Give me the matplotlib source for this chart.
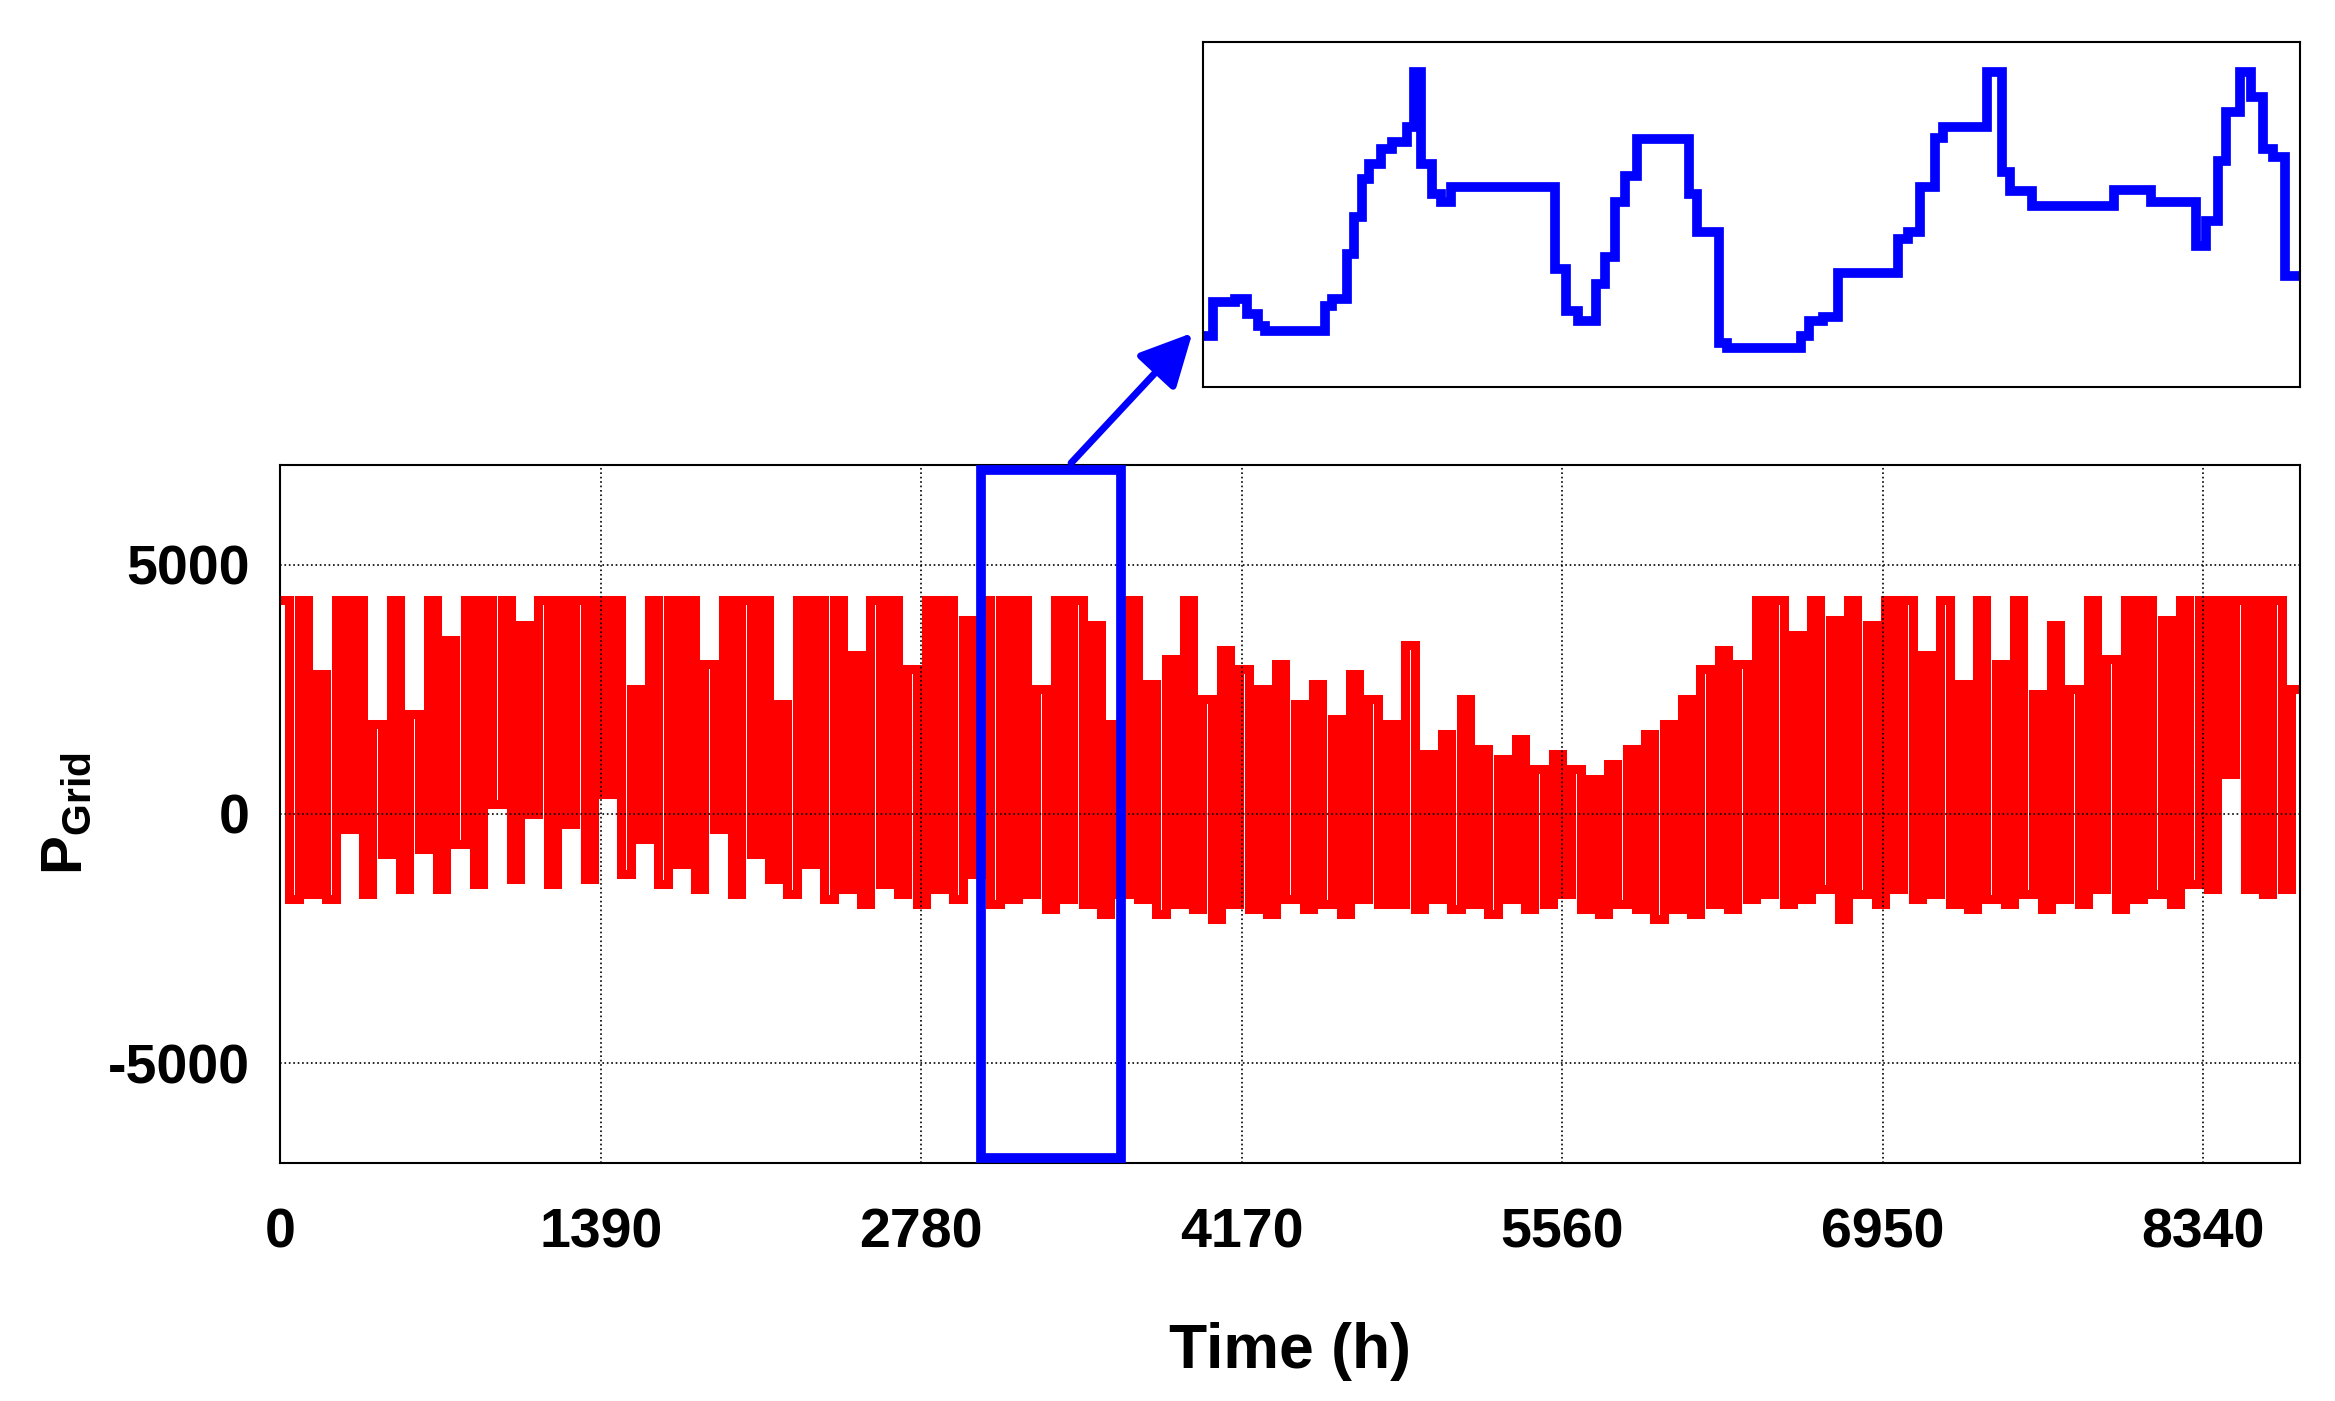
import numpy as np
import matplotlib
matplotlib.use("Agg")
import matplotlib.pyplot as plt
from matplotlib.patches import Rectangle, FancyArrowPatch

plt.rcParams['font.family'] = ['Liberation Sans', 'DejaVu Sans']
plt.rcParams['font.weight'] = 'bold'
plt.rcParams['mathtext.fontset'] = 'custom'
plt.rcParams['mathtext.bf'] = 'Liberation Sans:bold'
plt.rcParams['mathtext.rm'] = 'Liberation Sans:bold'
plt.rcParams['axes.unicode_minus'] = False

# grid power, one value per 40-hour block
p_grid = [
    4300, -1700, 4300, -1600, 2800, -1700, 4300, -300, 4300, -1600, 1800, -800, 4300, -1500, 2000, -700, 4300, -1500, 3500, -600,
    4300, -1400, 4300, 200, 4300, -1300, 3800, 0, 4300, -1400, 4300, -200, 4300, -1300, 4300, 400, 4300, -1200, 2500, -500,
    4300, -1400, 4300, -1000, 4300, -1500, 3000, -300, 4300, -1600, 4300, -800, 4300, -1300, 2200, -1600, 4300, -1000, 4300, -1700,
    4300, -1500, 3200, -1800, 4300, -1400, 4300, -1600, 2900, -1800, 4300, -1500, 4300, -1700, 3900, -1200, 4300, -1800, 4300, -1700,
    4300, -1600, 2500, -1900, 4300, -1700, 4300, -1800, 3800, -2000, 1800, -1600, 4300, -1700, 2600, -2000, 3100, -1800, 4300, -1900,
    2300, -2100, 3300, -1800, 2900, -1900, 2500, -2000, 3000, -1700, 2200, -1900, 2600, -1800, 1900, -2000, 2800, -1700, 2300, -1800,
    1800, -1800, 3400, -1900, 1200, -1700, 1600, -1900, 2300, -1800, 1300, -2000, 1100, -1700, 1500, -1900, 900, -1800, 1200, -1600,
    900, -1900, 700, -2000, 1000, -1800, 1300, -1900, 1600, -2100, 1800, -1900, 2300, -2000, 2900, -1800, 3300, -1900, 3000, -1700,
    4300, -1600, 4300, -1800, 3600, -1700, 4300, -1500, 3900, -2100, 4300, -1600, 3800, -1800, 4300, -1500, 4300, -1700, 3200, -1600,
    4300, -1800, 2600, -1900, 4300, -1700, 3000, -1800, 4300, -1600, 2400, -1900, 3800, -1700, 2500, -1800, 4300, -1500, 3100, -1900,
    4300, -1700, 4300, -1600, 3900, -1800, 4300, -1400, 4300, -1500, 4300, 800, 4300, -1500, 4300, -1600, 4300, -1500, 2500,
]
block_h = 40
x_ticks = [0, 1390, 2780, 4170, 5560, 6950, 8340]
y_ticks = [-5000, 0, 5000]
zoom_range = (3040, 3645)

# zoomed detail: step edges and levels (inset units)
inset_edges = [0, 7, 22, 30, 37, 42, 82, 87, 97, 102, 107, 112, 120, 127, 137, 142, 147, 154, 160, 167,
               177, 237, 244, 252, 264, 270, 277, 284, 292, 327, 332, 347, 352, 402, 407, 417, 427, 460,
               467, 474, 482, 492, 497, 527, 537, 542, 557, 612, 637, 667, 674, 682, 687, 697, 704, 712,
               719, 727, 737]
inset_vals = [34, 57, 59, 49, 41, 37, 54, 59, 89, 114, 139, 149, 159, 164, 174, 211, 149, 129, 124, 134,
              134, 79, 51, 44, 69, 87, 124, 141, 166, 129, 104, 29, 26, 34, 44, 47, 76, 76,
              99, 104, 134, 167, 174, 211, 144, 131, 121, 132, 124, 94, 111, 151, 184, 211, 194, 159,
              154, 74]

fig = plt.figure(figsize=(23.35, 14.01), dpi=100)
ax = fig.add_axes([0.12, 0.17, 0.865, 0.498])
edges = np.append(np.arange(len(p_grid)) * block_h, 8760)
ax.stairs(p_grid, edges, color='red', lw=6.5, baseline=None)
ax.set_xlim(0, 8760)
ax.set_ylim(-7000, 7000)
ax.set_xticks(x_ticks)
ax.set_yticks(y_ticks)
ax.tick_params(labelsize=40, length=0)
ax.tick_params(axis='x', pad=32)
ax.tick_params(axis='y', pad=22)
ax.grid(True, color='black', ls=':', lw=1.2)
for s in ax.spines.values():
    s.set_linewidth(1.5)
ax.set_xlabel('Time (h)', fontsize=45, fontweight='bold', labelpad=45)
ax.set_ylabel(r'$\mathbf{P_{Grid}}$', fontsize=42, labelpad=10)

ax.add_patch(Rectangle((zoom_range[0], -6900), zoom_range[1] - zoom_range[0], 13800,
                       fill=False, ec='blue', lw=7, zorder=5, clip_on=False))

ins = fig.add_axes([0.515, 0.724, 0.470, 0.246])
ins.stairs(inset_vals, inset_edges, color='blue', lw=7, baseline=None)
ins.set_xlim(0, 737)
ins.set_ylim(0, 231)
ins.set_xticks([])
ins.set_yticks([])
for s in ins.spines.values():
    s.set_linewidth(1.5)

arrow = FancyArrowPatch((718 / 1568, 1 - 312 / 940), (802 / 1568, 1 - 222 / 940),
                        transform=fig.transFigure, arrowstyle='-|>,head_length=1.6,head_width=0.8',
                        color='blue', lw=5, mutation_scale=20)
fig.patches.append(arrow)

fig.savefig('out.png', dpi=100)
